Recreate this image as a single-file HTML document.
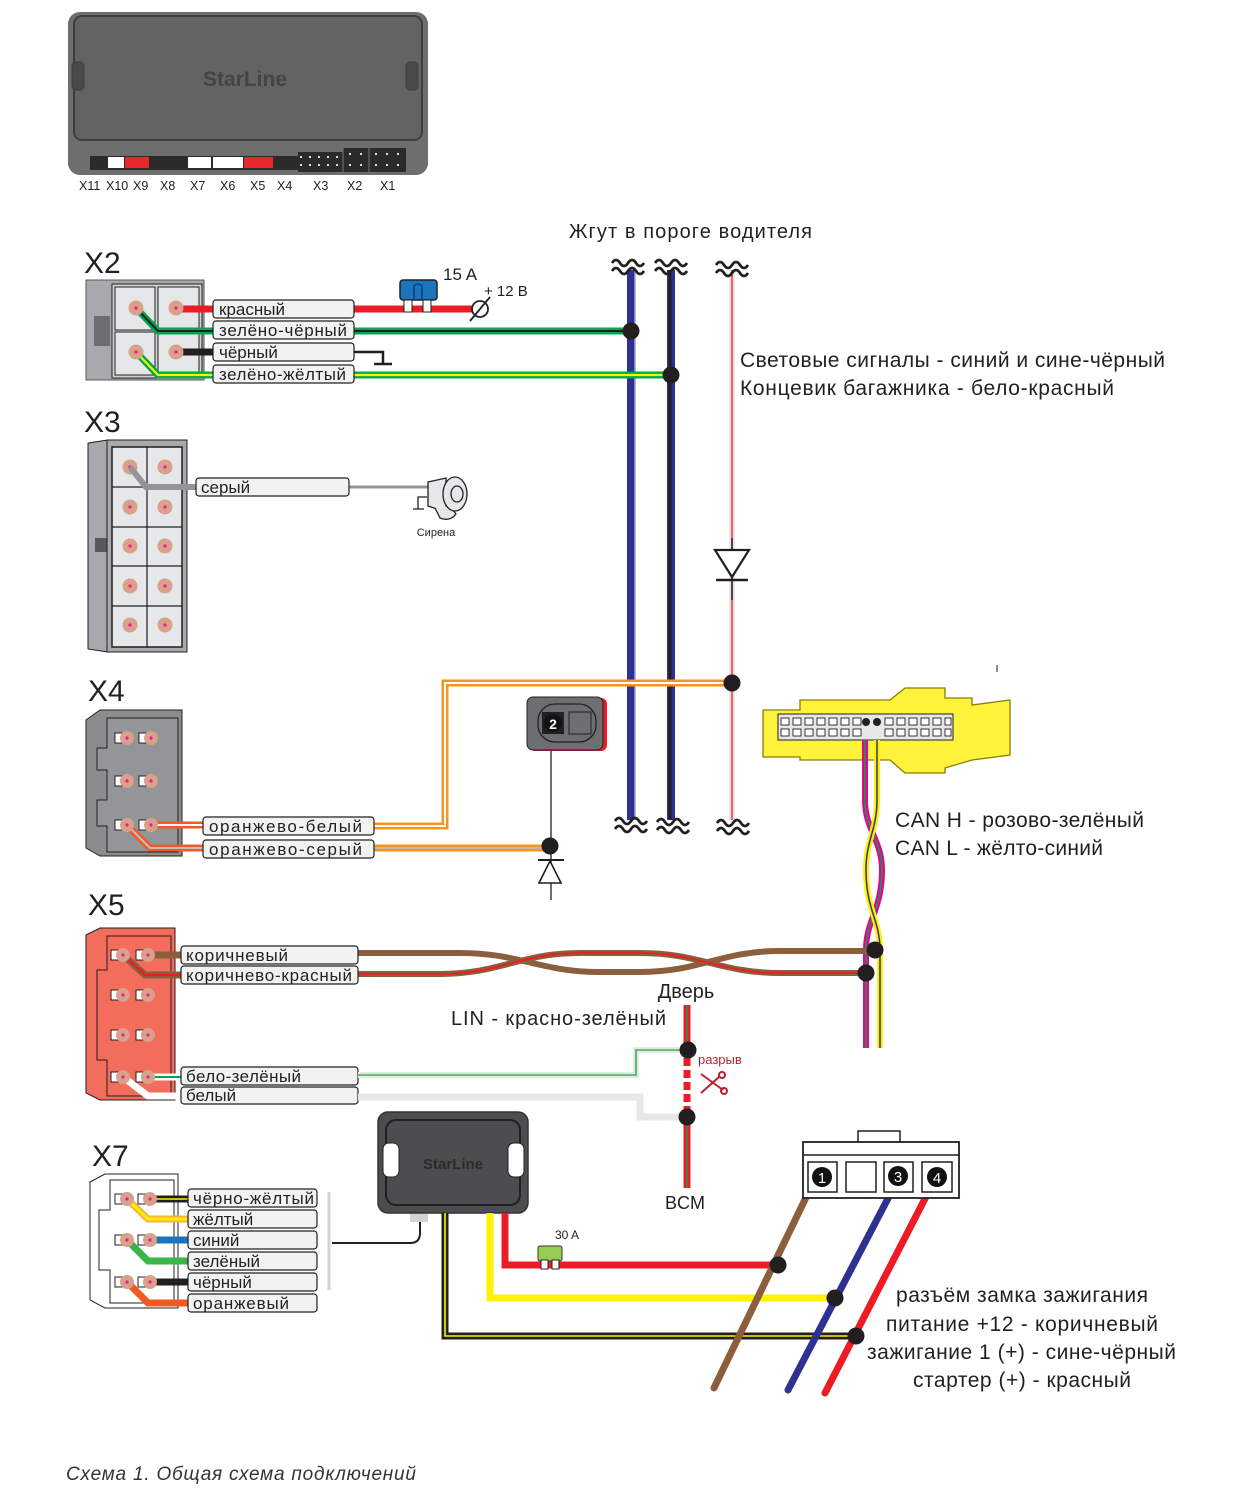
<!DOCTYPE html>
<html><head><meta charset="utf-8"><style>
html,body{margin:0;padding:0;background:#fff}
svg{display:block}
text{font-family:"Liberation Sans",sans-serif;fill:#231f20}
.lb{font-size:17px}
.bx{fill:#f1f2f2;stroke:#231f20;stroke-width:1.2}
</style></head><body>
<svg width="1255" height="1511" viewBox="0 0 1255 1511" xmlns="http://www.w3.org/2000/svg">
<defs>
<g id="pin"><circle r="7.5" fill="#d9a08a"/><circle r="1.6" fill="#ec1c8c"/></g>
<g id="pinx"><rect x="-12" y="-5" width="10" height="10" fill="#fff" stroke="#231f20" stroke-width="1"/><circle r="7" fill="#d9a08a"/><circle r="1.6" fill="#ec1c8c"/></g>
<g id="wav"><path d="M-16,-3 q4,-6 8,0 t8,0 t8,0 t8,0 M-16,5 q4,-6 8,0 t8,0 t8,0 t8,0" fill="none" stroke="#231f20" stroke-width="2.8"/></g>
</defs>

<!-- Main unit -->
<rect x="68" y="12" width="360" height="163" rx="12" fill="#6e6e6e"/>
<rect x="74" y="16" width="348" height="124" rx="8" fill="#636363" stroke="#3e3e3e" stroke-width="2"/>
<rect x="72" y="62" width="12" height="28" rx="4" fill="#4a4a4a" stroke="#3e3e3e"/>
<rect x="406" y="62" width="12" height="28" rx="4" fill="#4a4a4a" stroke="#3e3e3e"/>
<text x="245" y="86" text-anchor="middle" style="font-size:21px;font-weight:bold;fill:#444">StarLine</text>
<rect x="90" y="156" width="252" height="14" fill="#2b2b2b"/>
<rect x="108" y="157" width="16" height="11" fill="#fff"/>
<rect x="125" y="157" width="24" height="11" fill="#e8282a"/>
<rect x="188" y="157" width="23" height="11" fill="#fff"/>
<rect x="213" y="157" width="30" height="11" fill="#fff"/>
<rect x="244" y="157" width="29" height="11" fill="#e8282a"/>
<rect x="298" y="152" width="108" height="20" fill="#2b2b2b"/>
<rect x="343" y="148" width="63" height="24" fill="#2b2b2b"/>
<g fill="#ddd"><rect x="300" y="156" width="2" height="2"/><rect x="309" y="156" width="2" height="2"/><rect x="318" y="156" width="2" height="2"/><rect x="327" y="156" width="2" height="2"/><rect x="336" y="156" width="2" height="2"/><rect x="349" y="153" width="2" height="2"/><rect x="360" y="153" width="2" height="2"/><rect x="375" y="153" width="2" height="2"/><rect x="386" y="153" width="2" height="2"/><rect x="397" y="153" width="2" height="2"/><rect x="300" y="164" width="2" height="2"/><rect x="309" y="164" width="2" height="2"/><rect x="318" y="164" width="2" height="2"/><rect x="327" y="164" width="2" height="2"/><rect x="336" y="164" width="2" height="2"/><rect x="349" y="164" width="2" height="2"/><rect x="360" y="164" width="2" height="2"/><rect x="375" y="164" width="2" height="2"/><rect x="386" y="164" width="2" height="2"/><rect x="397" y="164" width="2" height="2"/></g>
<g stroke="#777" stroke-width="1"><line x1="343" y1="148" x2="343" y2="172"/><line x1="369" y1="148" x2="369" y2="172"/></g>
<g style="font-size:12.5px"><text x="79" y="190">X11</text><text x="106" y="190">X10</text><text x="133" y="190">X9</text><text x="160" y="190">X8</text><text x="190" y="190">X7</text><text x="220" y="190">X6</text><text x="250" y="190">X5</text><text x="277" y="190">X4</text><text x="313" y="190">X3</text><text x="347" y="190">X2</text><text x="380" y="190">X1</text></g>

<!-- Harness -->
<text x="569" y="238" textLength="243" style="font-size:20px">Жгут в пороге водителя</text>
<line x1="631" y1="270" x2="631" y2="820" stroke="#2e3192" stroke-width="8"/>
<line x1="635" y1="270" x2="635" y2="820" stroke="#9ea3d6" stroke-width="1.5"/>
<line x1="671" y1="270" x2="671" y2="820" stroke="#2e3192" stroke-width="8"/>
<line x1="670" y1="270" x2="670" y2="820" stroke="#231f20" stroke-width="3"/>
<line x1="732" y1="270" x2="732" y2="820" stroke="#e6e7e8" stroke-width="6"/>
<line x1="732" y1="270" x2="732" y2="820" stroke="#ed1c24" stroke-width="1.3"/>
<use href="#wav" x="628" y="266"/><use href="#wav" x="671" y="266"/><use href="#wav" x="732" y="268"/>
<use href="#wav" x="631" y="824"/><use href="#wav" x="673" y="825"/><use href="#wav" x="733" y="826"/>
<line x1="732" y1="538" x2="732" y2="600" stroke="#231f20" stroke-width="1.5"/>
<path d="M715,550 L749,550 L732,577 Z" fill="#fff" stroke="#231f20" stroke-width="2.2"/>
<line x1="716" y1="580" x2="748" y2="580" stroke="#231f20" stroke-width="2.5"/>
<text x="740" y="367" textLength="425" style="font-size:21px">Световые сигналы - синий и сине-чёрный</text>
<text x="740" y="395" textLength="374" style="font-size:21px">Концевик багажника - бело-красный</text>

<!-- X2 -->
<text x="84" y="273" style="font-size:30px">X2</text>
<rect x="86" y="280" width="118" height="100" fill="#a7a9ac" stroke="#58595b"/>
<rect x="94" y="316" width="16" height="30" fill="#6d6e71"/>
<rect x="112" y="284" width="90" height="94" fill="#d1d3d4" stroke="#231f20"/>
<rect x="115" y="287" width="40" height="43" fill="#e6e7e8" stroke="#231f20"/><rect x="158" y="287" width="41" height="43" fill="#e6e7e8" stroke="#231f20"/>
<rect x="115" y="332" width="40" height="43" fill="#e6e7e8" stroke="#231f20"/><rect x="158" y="332" width="41" height="43" fill="#e6e7e8" stroke="#231f20"/>
<line x1="176" y1="309" x2="480" y2="309" stroke="#ed1c24" stroke-width="7"/>
<path d="M136,308 L158,331 L631,331" fill="none" stroke="#00a651" stroke-width="7"/>
<path d="M136,308 L158,331 L631,331" fill="none" stroke="#231f20" stroke-width="2"/>
<path d="M176,352 L354,352" stroke="#231f20" stroke-width="7"/>
<path d="M354,352 L383,352 L383,364 M374,364 L392,364" fill="none" stroke="#231f20" stroke-width="2.5"/>
<path d="M136,352 L158,375 L671,375" fill="none" stroke="#00a651" stroke-width="7"/>
<path d="M136,352 L158,375 L671,375" fill="none" stroke="#fff200" stroke-width="2.2"/>
<use href="#pin" x="136" y="308"/><use href="#pin" x="176" y="308"/><use href="#pin" x="136" y="352"/><use href="#pin" x="176" y="352"/>
<rect class="bx" x="213" y="300" width="141" height="18" rx="3"/><text class="lb" x="219" y="315">красный</text>
<rect class="bx" x="213" y="321" width="141" height="18" rx="3"/><text class="lb" x="219" y="336" textLength="128">зелёно-чёрный</text>
<rect class="bx" x="213" y="343" width="141" height="18" rx="3"/><text class="lb" x="219" y="358">чёрный</text>
<rect class="bx" x="213" y="365" width="141" height="18" rx="3"/><text class="lb" x="219" y="380" textLength="127">зелёно-жёлтый</text>
<rect x="400" y="280" width="37" height="20" rx="3" fill="#1b75bc" stroke="#231f20" stroke-width="1.5"/>
<path d="M414,300 L414,286 Q418,282 422,286 L422,300" fill="none" stroke="#0d3e6e" stroke-width="1.5"/>
<rect x="404" y="300" width="8" height="12" fill="#fff" stroke="#231f20"/><rect x="423" y="300" width="8" height="12" fill="#fff" stroke="#231f20"/>
<text x="443" y="280" style="font-size:17px">15 A</text>
<text x="484" y="296" style="font-size:15px">+ 12 B</text>
<circle cx="480" cy="309" r="8" fill="#fff" stroke="#231f20" stroke-width="1.8"/>
<line x1="470" y1="321" x2="490" y2="297" stroke="#231f20" stroke-width="1.8"/>
<circle cx="631" cy="331" r="8.5" fill="#231f20"/><circle cx="671" cy="375" r="8.5" fill="#231f20"/>

<!-- X3 -->
<text x="84" y="432" style="font-size:30px">X3</text>
<path d="M88,443 L108,440 L108,652 L88,649 Z" fill="#a7a9ac" stroke="#231f20"/>
<rect x="95" y="538" width="12" height="14" fill="#58595b"/>
<rect x="107" y="440" width="80" height="212" fill="#a7a9ac" stroke="#231f20"/>
<rect x="112" y="447" width="70" height="200" fill="#e6e7e8" stroke="#231f20" stroke-width="1.5"/>
<g stroke="#231f20" stroke-width="1.2"><line x1="147" y1="447" x2="147" y2="647"/><line x1="112" y1="487" x2="182" y2="487"/><line x1="112" y1="527" x2="182" y2="527"/><line x1="112" y1="566" x2="182" y2="566"/><line x1="112" y1="606" x2="182" y2="606"/></g>
<g><use href="#pin" x="130" y="467"/><use href="#pin" x="165" y="467"/><use href="#pin" x="130" y="507"/><use href="#pin" x="165" y="507"/><use href="#pin" x="130" y="546"/><use href="#pin" x="165" y="546"/><use href="#pin" x="130" y="586"/><use href="#pin" x="165" y="586"/><use href="#pin" x="130" y="625"/><use href="#pin" x="165" y="625"/></g>
<path d="M130,467 L146,487 L196,487" fill="none" stroke="#939598" stroke-width="6"/>
<line x1="349" y1="487" x2="430" y2="487" stroke="#939598" stroke-width="3"/>
<rect class="bx" x="196" y="478" width="153" height="18" rx="3"/><text class="lb" x="201" y="493">серый</text>
<g stroke="#231f20" stroke-width="1.3" fill="#e6e7e8">
<path d="M428,482 L446,478 L446,512 L428,506 Z"/>
<path d="M435,508 L440,518 Q450,522 456,514 L450,506"/>
<ellipse cx="455" cy="494" rx="12" ry="17"/>
<ellipse cx="457" cy="494" rx="6" ry="8" fill="none"/>
<path d="M427,497 L418,497 L418,509 M413,509 L424,509" fill="none"/>
</g>
<text x="436" y="536" text-anchor="middle" style="font-size:11px">Сирена</text>

<!-- X4 -->
<text x="88" y="701" style="font-size:30px">X4</text>
<path d="M86,720 L100,710 L182,710 L182,856 L100,856 L86,848 Z" fill="#8c8c8e" stroke="#231f20"/>
<path d="M107,718 L178,718 L178,852 L107,852 L107,826 L97,826 L97,800 L107,800 L107,770 L97,770 L97,748 L107,748 Z" fill="#939598" stroke="#231f20"/>
<use href="#pinx" x="127" y="738"/><use href="#pinx" x="151" y="738"/><use href="#pinx" x="127" y="781"/><use href="#pinx" x="151" y="781"/>
<path d="M127,825 L150,848 L550,848" fill="none" stroke="#f15a24" stroke-width="7"/>
<path d="M127,825 L150,848 L203,848" fill="none" stroke="#bcbec0" stroke-width="2"/>
<line x1="374" y1="848" x2="550" y2="848" stroke="#f7941d" stroke-width="7"/>
<line x1="374" y1="848" x2="550" y2="848" stroke="#bcbec0" stroke-width="1.8"/>
<path d="M151,825 L203,825" stroke="#f15a24" stroke-width="7"/>
<path d="M151,825 L203,825" stroke="#fff" stroke-width="2"/>
<path d="M374,826 L445,826 L445,683 L732,683" fill="none" stroke="#f7941d" stroke-width="7"/>
<path d="M374,826 L445,826 L445,683 L732,683" fill="none" stroke="#fff" stroke-width="2"/>
<use href="#pinx" x="127" y="825"/><use href="#pinx" x="151" y="825"/>
<rect class="bx" x="203" y="817" width="171" height="18" rx="3"/><text class="lb" x="209" y="832" textLength="153">оранжево-белый</text>
<rect class="bx" x="203" y="840" width="171" height="18" rx="3"/><text class="lb" x="209" y="855" textLength="153">оранжево-серый</text>
<circle cx="732" cy="683" r="8.5" fill="#231f20"/>
<!-- module 2 -->
<rect x="529" y="698" width="78" height="53" rx="6" fill="#ed1c24"/>
<rect x="527" y="697" width="76" height="53" rx="6" fill="#6d6e71" stroke="#231f20"/>
<rect x="538" y="704" width="58" height="38" rx="17" fill="none" stroke="#231f20" stroke-width="1.3"/>
<rect x="542" y="712" width="22" height="22" fill="#231f20"/><circle cx="553" cy="723" r="9" fill="#111"/><text x="553" y="729" text-anchor="middle" style="font-size:14px;font-weight:bold;fill:#fff">2</text>
<rect x="569" y="712" width="22" height="22" fill="#6d6e71" stroke="#231f20"/>
<line x1="551" y1="751" x2="551" y2="900" stroke="#231f20" stroke-width="1.3"/>
<circle cx="550" cy="846" r="8.5" fill="#231f20"/>
<line x1="538" y1="860" x2="564" y2="860" stroke="#231f20" stroke-width="2"/>
<path d="M550,861 L539,883 L561,883 Z" fill="#fff" stroke="#231f20" stroke-width="1.6"/>

<!-- Yellow connector -->
<path d="M763,710 L800,710 L800,700 L890,700 L905,688 L945,688 L945,698 L972,698 L972,705 L1010,700 L1010,755 L972,760 L945,768 L945,773 L905,773 L890,760 L800,760 L800,757 L763,757 Z" fill="#fff23a" stroke="#8a7d00" stroke-width="1.3"/>
<rect x="778" y="714" width="175" height="26" fill="#e6e7e8" stroke="#231f20"/>
<g fill="#fff" stroke="#231f20" stroke-width="0.9">
<rect x="781" y="718" width="8" height="7"/><rect x="793" y="718" width="8" height="7"/><rect x="805" y="718" width="8" height="7"/><rect x="817" y="718" width="8" height="7"/><rect x="829" y="718" width="8" height="7"/><rect x="841" y="718" width="8" height="7"/><rect x="853" y="718" width="8" height="7"/><rect x="885" y="718" width="8" height="7"/><rect x="897" y="718" width="8" height="7"/><rect x="909" y="718" width="8" height="7"/><rect x="921" y="718" width="8" height="7"/><rect x="933" y="718" width="8" height="7"/><rect x="945" y="718" width="6" height="7"/>
<rect x="781" y="729" width="8" height="7"/><rect x="793" y="729" width="8" height="7"/><rect x="805" y="729" width="8" height="7"/><rect x="817" y="729" width="8" height="7"/><rect x="829" y="729" width="8" height="7"/><rect x="841" y="729" width="8" height="7"/><rect x="853" y="729" width="8" height="7"/><rect x="885" y="729" width="8" height="7"/><rect x="897" y="729" width="8" height="7"/><rect x="909" y="729" width="8" height="7"/><rect x="921" y="729" width="8" height="7"/><rect x="933" y="729" width="8" height="7"/><rect x="945" y="729" width="6" height="7"/>
</g>
<circle cx="866" cy="722" r="4" fill="#231f20"/><circle cx="877" cy="722" r="4" fill="#231f20"/>
<line x1="997" y1="665" x2="997" y2="672" stroke="#231f20"/>
<!-- CAN wires -->
<path d="M865,740 L865,800 C865,830 882,840 882,870 C882,910 866,920 866,950 L866,1048" fill="none" stroke="#ec008c" stroke-width="6"/>
<path d="M865,740 L865,800 C865,830 882,840 882,870 C882,910 866,920 866,950 L866,1048" fill="none" stroke="#00a651" stroke-width="1.5"/>
<path d="M877,740 L877,800 C877,830 866,840 866,870 C866,910 880,920 880,950 L880,1048" fill="none" stroke="#fff200" stroke-width="6"/>
<path d="M877,740 L877,800 C877,830 866,840 866,870 C866,910 880,920 880,950 L880,1048" fill="none" stroke="#2e3192" stroke-width="1.5"/>
<text x="895" y="827" textLength="249" style="font-size:21px">CAN H - розово-зелёный</text>
<text x="895" y="855" textLength="208" style="font-size:21px">CAN L - жёлто-синий</text>

<!-- X5 -->
<text x="88" y="915" style="font-size:30px">X5</text>
<path d="M86,935 L100,928 L175,928 L175,1100 L100,1100 L86,1093 Z" fill="#f26d5b" stroke="#231f20"/>
<path d="M107,936 L171,936 L171,1096 L107,1096 L107,1060 L97,1060 L97,970 L107,970 Z" fill="#f26d5b" stroke="#231f20"/>
<path d="M123,955 L145,975 L181,975" fill="none" stroke="#8b5e3c" stroke-width="7"/>
<path d="M123,955 L145,975 L181,975" fill="none" stroke="#ed1c24" stroke-width="2.2"/>
<line x1="148" y1="955" x2="181" y2="955" stroke="#8b5e3c" stroke-width="7"/>
<path d="M358,953 L460,953 C520,953 540,972 600,972 L640,972 C700,972 720,951 780,951 L875,951" fill="none" stroke="#8b5e3c" stroke-width="6"/>
<path d="M358,974 L440,974 C500,974 520,953 580,953 L640,953 C700,953 720,973 780,973 L866,973" fill="none" stroke="#8b5e3c" stroke-width="6"/>
<path d="M358,974 L440,974 C500,974 520,953 580,953 L640,953 C700,953 720,973 780,973 L866,973" fill="none" stroke="#ed1c24" stroke-width="1.8"/>
<use href="#pinx" x="123" y="955"/><use href="#pinx" x="148" y="955"/>
<use href="#pinx" x="123" y="995"/><use href="#pinx" x="148" y="995"/><use href="#pinx" x="123" y="1035"/><use href="#pinx" x="148" y="1035"/>
<path d="M123,1077 L148,1096 L181,1096" fill="none" stroke="#fff" stroke-width="7"/>
<line x1="148" y1="1077" x2="181" y2="1077" stroke="#fff" stroke-width="7"/>
<line x1="148" y1="1077" x2="181" y2="1077" stroke="#00a651" stroke-width="2"/>
<use href="#pinx" x="123" y="1077"/><use href="#pinx" x="148" y="1077"/>
<rect class="bx" x="181" y="946" width="177" height="18" rx="3"/><text class="lb" x="186" y="961" textLength="102">коричневый</text>
<rect class="bx" x="181" y="966" width="177" height="18" rx="3"/><text class="lb" x="186" y="981" textLength="166">коричнево-красный</text>
<rect class="bx" x="181" y="1067" width="177" height="18" rx="3"/><text class="lb" x="186" y="1082" textLength="115">бело-зелёный</text>
<rect class="bx" x="181" y="1087" width="177" height="17" rx="3"/><text class="lb" x="186" y="1101">белый</text>
<circle cx="875" cy="950" r="8.5" fill="#231f20"/><circle cx="866" cy="973" r="8.5" fill="#231f20"/>

<!-- LIN -->
<text x="686" y="998" text-anchor="middle" style="font-size:20px">Дверь</text>
<text x="451" y="1025" textLength="215" style="font-size:20px">LIN - красно-зелёный</text>
<path d="M358,1075 L636,1075 L636,1050 L688,1050" fill="none" stroke="#e6e7e8" stroke-width="6"/>
<path d="M358,1075 L636,1075 L636,1050 L688,1050" fill="none" stroke="#39b54a" stroke-width="1.6"/>
<path d="M358,1097 L640,1097 L640,1117 L687,1117" fill="none" stroke="#e6e7e8" stroke-width="7"/>
<line x1="687" y1="1005" x2="687" y2="1050" stroke="#ed1c24" stroke-width="7"/>
<line x1="687" y1="1005" x2="687" y2="1050" stroke="#00a651" stroke-width="1.4"/>
<line x1="687" y1="1117" x2="687" y2="1188" stroke="#ed1c24" stroke-width="7"/>
<line x1="687" y1="1117" x2="687" y2="1188" stroke="#00a651" stroke-width="1.4"/>
<line x1="687" y1="1058" x2="687" y2="1112" stroke="#ed1c24" stroke-width="7" stroke-dasharray="8,4"/>
<circle cx="688" cy="1050" r="8.5" fill="#231f20"/><circle cx="687" cy="1117" r="8.5" fill="#231f20"/>
<text x="698" y="1064" style="font-size:13px;fill:#be1e2d">разрыв</text>
<g stroke="#be1e2d" stroke-width="2" fill="none"><line x1="701" y1="1074" x2="723" y2="1090"/><line x1="701" y1="1093" x2="719" y2="1077"/><circle cx="722" cy="1075" r="3"/><circle cx="724" cy="1091" r="3"/></g>
<text x="685" y="1209" text-anchor="middle" style="font-size:18px">BCM</text>

<!-- X7 -->
<text x="92" y="1166" style="font-size:30px">X7</text>
<path d="M90,1182 L105,1174 L178,1174 L178,1308 L105,1308 L90,1300 Z" fill="#fff" stroke="#231f20"/>
<path d="M110,1180 L174,1180 L174,1303 L110,1303 L110,1270 L99,1270 L99,1210 L110,1210 Z" fill="#fff" stroke="#231f20"/>
<path d="M127,1199 L148,1219 L188,1219" fill="none" stroke="#fbb040" stroke-width="7"/>
<path d="M127,1199 L148,1219 L188,1219" fill="none" stroke="#fff200" stroke-width="3"/>
<line x1="150" y1="1199" x2="188" y2="1199" stroke="#231f20" stroke-width="7"/><line x1="150" y1="1199" x2="188" y2="1199" stroke="#fff200" stroke-width="1.5"/>
<line x1="150" y1="1240" x2="188" y2="1240" stroke="#1c75bc" stroke-width="7"/>
<path d="M127,1240 L148,1261 L188,1261" fill="none" stroke="#39b54a" stroke-width="7"/>
<line x1="150" y1="1282" x2="188" y2="1282" stroke="#231f20" stroke-width="7"/>
<path d="M127,1282 L148,1303 L188,1303" fill="none" stroke="#f15a24" stroke-width="7"/>
<use href="#pinx" x="127" y="1199"/><use href="#pinx" x="150" y="1199"/><use href="#pinx" x="127" y="1240"/><use href="#pinx" x="150" y="1240"/><use href="#pinx" x="127" y="1282"/><use href="#pinx" x="150" y="1282"/>
<rect class="bx" x="188" y="1189" width="129" height="18" rx="3"/><text class="lb" x="193" y="1204" textLength="121">чёрно-жёлтый</text>
<rect class="bx" x="188" y="1210" width="129" height="18" rx="3"/><text class="lb" x="193" y="1225">жёлтый</text>
<rect class="bx" x="188" y="1231" width="129" height="18" rx="3"/><text class="lb" x="193" y="1246">синий</text>
<rect class="bx" x="188" y="1252" width="129" height="18" rx="3"/><text class="lb" x="193" y="1267">зелёный</text>
<rect class="bx" x="188" y="1273" width="129" height="18" rx="3"/><text class="lb" x="193" y="1288">чёрный</text>
<rect class="bx" x="188" y="1294" width="129" height="18" rx="3"/><text class="lb" x="193" y="1309" textLength="96">оранжевый</text>
<line x1="329" y1="1192" x2="329" y2="1290" stroke="#d1d3d4" stroke-width="3"/>
<path d="M332,1243 L410,1243 Q420,1243 420,1233 L420,1220" fill="none" stroke="#231f20" stroke-width="2"/>

<!-- relay -->
<rect x="410" y="1210" width="18" height="12" fill="#d1d3d4"/>
<rect x="378" y="1112" width="150" height="101" rx="10" fill="#4d4d4f" stroke="#333" stroke-width="1.5"/>
<rect x="386" y="1120" width="134" height="85" rx="10" fill="none" stroke="#231f20" stroke-width="2"/>
<rect x="383" y="1143" width="16" height="34" rx="6" fill="#fff" stroke="#231f20"/>
<rect x="508" y="1143" width="16" height="34" rx="6" fill="#fff" stroke="#231f20"/>
<text x="453" y="1169" text-anchor="middle" style="font-size:15px;font-weight:bold;fill:#2a2a2a">StarLine</text>
<path d="M445,1213 L445,1336 L856,1336" fill="none" stroke="#231f20" stroke-width="7"/>
<path d="M445,1213 L445,1336 L856,1336" fill="none" stroke="#fff200" stroke-width="1.6"/>
<path d="M490,1213 L490,1298 L835,1298" fill="none" stroke="#fff200" stroke-width="7"/>
<path d="M505,1213 L505,1265 L778,1265" fill="none" stroke="#ed1c24" stroke-width="7"/>
<rect x="538" y="1246" width="24" height="15" rx="2" fill="#8dc63f" stroke="#231f20" opacity="0.9"/>
<rect x="541" y="1260" width="7" height="9" fill="#fff" stroke="#231f20"/><rect x="552" y="1260" width="7" height="9" fill="#fff" stroke="#231f20"/>
<text x="555" y="1239" style="font-size:12px">30 A</text>
<!-- ignition connector -->
<line x1="812" y1="1185" x2="714" y2="1388" stroke="#8b5e3c" stroke-width="7" stroke-linecap="round"/>
<line x1="895" y1="1185" x2="788" y2="1390" stroke="#2e3192" stroke-width="7" stroke-linecap="round"/>
<line x1="932" y1="1185" x2="825" y2="1393" stroke="#ed1c24" stroke-width="7" stroke-linecap="round"/>
<rect x="858" y="1131" width="42" height="16" fill="#fff" stroke="#231f20" stroke-width="1.5"/>
<rect x="803" y="1142" width="156" height="56" fill="#fff" stroke="#231f20" stroke-width="1.8"/>
<line x1="803" y1="1155" x2="959" y2="1155" stroke="#231f20" stroke-width="1.5"/>
<g fill="#fff" stroke="#231f20" stroke-width="1.5"><rect x="808" y="1162" width="29" height="30"/><rect x="846" y="1162" width="30" height="30"/><rect x="884" y="1162" width="29" height="30"/><rect x="922" y="1162" width="30" height="30"/></g>
<circle cx="822" cy="1177" r="10" fill="#111"/><text x="822" y="1183" text-anchor="middle" style="font-size:15px;fill:#fff">1</text>
<circle cx="898" cy="1176" r="10" fill="#111"/><text x="898" y="1182" text-anchor="middle" style="font-size:15px;fill:#fff">3</text>
<circle cx="937" cy="1177" r="10" fill="#111"/><text x="937" y="1183" text-anchor="middle" style="font-size:15px;fill:#fff">4</text>
<circle cx="778" cy="1265" r="8.5" fill="#231f20"/><circle cx="835" cy="1298" r="8.5" fill="#231f20"/><circle cx="856" cy="1336" r="8.5" fill="#231f20"/>
<g style="font-size:21px">
<text x="896" y="1302" textLength="252">разъём замка зажигания</text>
<text x="886" y="1331" textLength="272">питание +12 - коричневый</text>
<text x="867" y="1359" textLength="309">зажигание 1 (+) - сине-чёрный</text>
<text x="913" y="1387" textLength="218">стартер (+) - красный</text>
</g>
<text x="66" y="1480" textLength="350" style="font-size:19px;font-style:italic;fill:#333">Схема 1.  Общая схема подключений</text>
</svg>
</body></html>
